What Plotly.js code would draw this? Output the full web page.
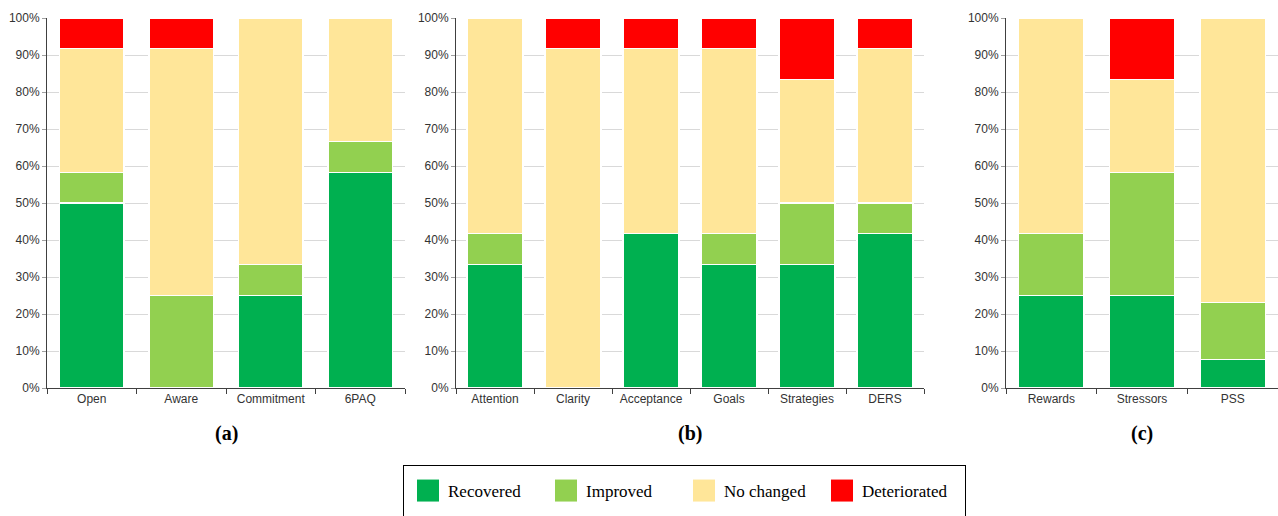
<!DOCTYPE html>
<html>
<head>
<meta charset="utf-8">
<script src="https://cdn.plot.ly/plotly-3.0.1.min.js"></script>
<style>
html,body{margin:0;padding:0;background:#fff;}
#chart{width:1278px;height:516px;}
</style>
</head>
<body>
<div id="chart"></div>
<script>
// ---- data ----
const seriesNames = ['Recovered', 'Improved', 'No changed', 'Deteriorated'];
const seriesColors = ['#00b050', '#92d050', '#ffe699', '#ff0000'];

const catsA = ['Open', 'Aware', 'Commitment', '6PAQ'];
const recoveredA = [50, 0, 25, 58.33];
const improvedA = [8.33, 25, 8.33, 8.33];
const noChangedA = [33.33, 66.67, 66.67, 33.33];
const deterioratedA = [8.33, 8.33, 0, 0];

const catsB = ['Attention', 'Clarity', 'Acceptance', 'Goals', 'Strategies', 'DERS'];
const recoveredB = [33.33, 0, 41.67, 33.33, 33.33, 41.67];
const improvedB = [8.33, 0, 0, 8.33, 16.67, 8.33];
const noChangedB = [58.33, 91.67, 50, 50, 33.33, 41.67];
const deterioratedB = [0, 8.33, 8.33, 8.33, 16.67, 8.33];

const catsC = ['Rewards', 'Stressors', 'PSS'];
const recoveredC = [25, 25, 7.69];
const improvedC = [16.67, 33.33, 15.38];
const noChangedC = [58.33, 25, 76.92];
const deterioratedC = [0, 16.67, 0];

const panelLabels = ['(a)', '(b)', '(c)'];
const yTickVals = [0, 10, 20, 30, 40, 50, 60, 70, 80, 90, 100];
const yTickText = ['0%', '10%', '20%', '30%', '40%', '50%', '60%', '70%', '80%', '90%', '100%'];

const panels = [
  {cats: catsA, vals: [recoveredA, improvedA, noChangedA, deterioratedA], xa: 'x', ya: 'y'},
  {cats: catsB, vals: [recoveredB, improvedB, noChangedB, deterioratedB], xa: 'x2', ya: 'y2'},
  {cats: catsC, vals: [recoveredC, improvedC, noChangedC, deterioratedC], xa: 'x3', ya: 'y3'}
];

const traces = [];
panels.forEach((p, pi) => {
  seriesNames.forEach((name, si) => {
    traces.push({
      type: 'bar',
      name: name,
      x: p.cats,
      y: p.vals[si],
      xaxis: p.xa,
      yaxis: p.ya,
      legendgroup: name,
      showlegend: pi === 0,
      marker: {color: seriesColors[si], line: {color: '#ffffff', width: 1.2}},
      hoverinfo: 'x+y+name'
    });
  });
});

const tickFont = {family: 'Liberation Sans, Arial, sans-serif', size: 12, color: '#333333'};

function xAxis(domain, yref) {
  return {
    domain: domain, anchor: yref, type: 'category',
    showline: true, linecolor: '#404040', linewidth: 1,
    ticks: 'outside', tickson: 'boundaries', ticklen: 5, tickcolor: '#404040',
    tickfont: tickFont, showgrid: false, fixedrange: true
  };
}
function yAxis(xref) {
  return {
    anchor: xref, range: [0, 100], tickmode: 'array', tickvals: yTickVals, ticktext: yTickText,
    showline: true, linecolor: '#404040', linewidth: 1,
    ticks: 'outside', ticklen: 4, tickcolor: '#a0a0a0',
    showgrid: true, gridcolor: '#d9d9d9', gridwidth: 1, zeroline: false,
    tickfont: tickFont, fixedrange: true
  };
}

const dA = [47/1278, 405/1278];
const dB = [456/1278, 924/1278];
const dC = [1006/1278, 1];

const annotations = [dA, dB, dC].map((d, i) => ({
  text: '<b>' + panelLabels[i] + '</b>',
  xref: 'paper', yref: 'paper',
  x: (d[0] + d[1]) / 2, y: -(433 - 388) / 370,
  xanchor: 'center', yanchor: 'middle', showarrow: false,
  font: {family: 'Liberation Serif, serif', size: 20, color: '#000'}
}));

const layout = {
  width: 1278, height: 516,
  margin: {l: 0, r: 0, t: 18, b: 128},
  paper_bgcolor: '#ffffff', plot_bgcolor: '#ffffff',
  barmode: 'stack', bargap: 0.28,
  xaxis: xAxis(dA, 'y'), yaxis: yAxis('x'),
  xaxis2: xAxis(dB, 'y2'), yaxis2: yAxis('x2'),
  xaxis3: xAxis(dC, 'y3'), yaxis3: yAxis('x3'),
  showlegend: true,
  legend: {
    orientation: 'h', x: 403/1278, xanchor: 'left',
    y: -(465 - 388) / 370, yanchor: 'top',
    bordercolor: '#000', borderwidth: 1, bgcolor: '#fff',
    font: {family: 'Liberation Serif, serif', size: 17, color: '#000'},
    entrywidth: 93, entrywidthmode: 'pixels',
    itemclick: false, itemdoubleclick: false,
    traceorder: 'normal', valign: 'middle'
  },
  annotations: annotations
};

Plotly.newPlot('chart', traces, layout, {displayModeBar: false, staticPlot: true}).then(() => {
  document.querySelectorAll('.legend .legendpoints path').forEach(p => {
    p.setAttribute('d', 'M11,11H-11V-11H11Z');
    p.style.strokeWidth = '0px';
  });
  const bg = document.querySelector('.legend rect.bg');
  if (bg) {
    bg.setAttribute('height', '70');
    bg.setAttribute('width', '562');
  }
  const sb = document.querySelector('.legend .scrollbox');
  if (sb) {
    const t = sb.getAttribute('transform') || '';
    sb.setAttribute('transform', t + ' translate(4,7)');
  }
});
</script>
</body>
</html>
